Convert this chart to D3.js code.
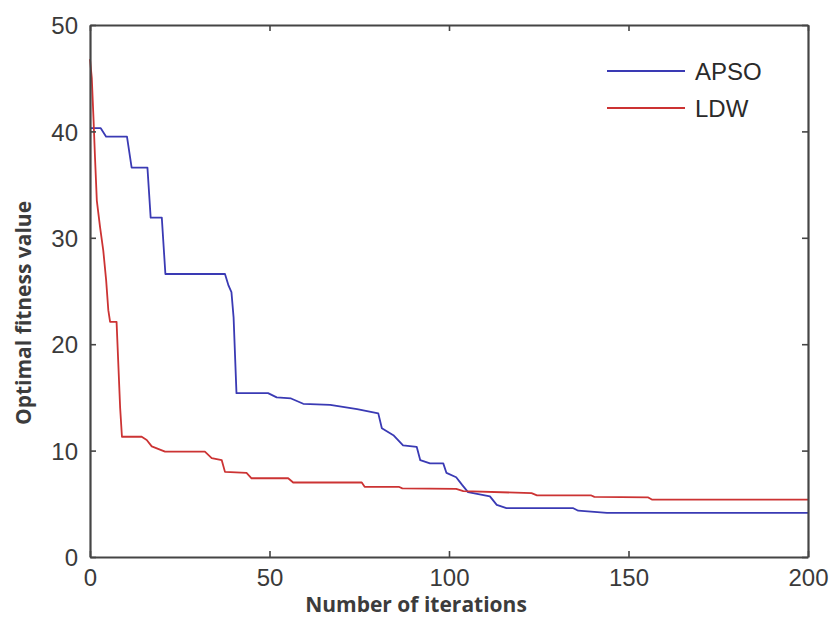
<!DOCTYPE html>
<html>
<head>
<meta charset="utf-8">
<script src="https://cdn.jsdelivr.net/npm/d3@7"></script>
<style>
  html, body { margin: 0; padding: 0; background: #fff; }
  svg { display: block; }
</style>
</head>
<body>
<svg id="chart" width="829" height="617"></svg>
<script>
// ---- data ----
const xTicks = [0, 50, 100, 150, 200];
const yTicks = [0, 10, 20, 30, 40, 50];
const seriesNames = ["APSO", "LDW"];
const apsoIter = [0, 3, 4.5, 10.3, 11.6, 16.0, 16.9, 20.0, 21.0, 37.6, 38.6, 39.4, 40.0, 40.8, 49.6, 52, 56, 59.4, 66.9, 74.4, 80.3, 81.3, 84.5, 87.2, 91, 92, 94.7, 98.4, 99.3, 102, 103.6, 105.3, 111.4, 113.3, 116, 134.5, 136, 144, 200];
const apsoValue = [40.3, 40.3, 39.5, 39.5, 36.6, 36.6, 31.9, 31.9, 26.6, 26.6, 25.5, 24.9, 22.5, 15.4, 15.4, 15.0, 14.9, 14.4, 14.3, 13.9, 13.5, 12.1, 11.45, 10.5, 10.36, 9.1, 8.8, 8.8, 7.9, 7.5, 6.8, 6.1, 5.7, 4.9, 4.6, 4.6, 4.35, 4.15, 4.15];
const ldwIter = [0, 0.5, 1.0, 1.4, 1.9, 2.8, 3.7, 4.5, 5.1, 5.6, 7.4, 8.4, 8.9, 14.4, 15.8, 17.2, 20.9, 32, 33.9, 36.7, 37.6, 43.6, 45, 55.2, 56.6, 75.7, 76.5, 86, 87, 102, 104, 123, 124.5, 139.5, 140.5, 155.5, 156.5, 200];
const ldwValue = [46.8, 45, 41, 37.5, 33.5, 31, 28.8, 26, 23.2, 22.1, 22.1, 14.0, 11.3, 11.3, 11.0, 10.4, 9.9, 9.9, 9.3, 9.1, 8.0, 7.9, 7.4, 7.4, 7.0, 7.0, 6.6, 6.6, 6.45, 6.4, 6.2, 6.0, 5.8, 5.8, 5.65, 5.6, 5.4, 5.4];
const seriesColors = ["#3a3ab4", "#cc3333"];

// ---- layout ----
const svg = d3.select("#chart");
const mLeft = 90, mRight = 808, mTop = 25, mBottom = 557;
const x = d3.scaleLinear().domain([0, 200]).range([mLeft, mRight]);
const y = d3.scaleLinear().domain([0, 50]).range([mBottom, mTop]);
const axisColor = "#454545";
const tickFont = "'Liberation Sans', Arial, sans-serif";

const series = [
  { name: seriesNames[0], pts: apsoIter.map((d, i) => [d, apsoValue[i]]), color: seriesColors[0] },
  { name: seriesNames[1], pts: ldwIter.map((d, i) => [d, ldwValue[i]]), color: seriesColors[1] }
];

const line = d3.line().x(d => x(d[0])).y(d => y(d[1]));

// lines
svg.append("g").selectAll("path").data(series).join("path")
  .attr("d", d => line(d.pts))
  .attr("fill", "none")
  .attr("stroke", d => d.color)
  .attr("stroke-width", 1.8)
  .attr("stroke-linejoin", "round");

// axes
const tl = 6;
const gx = svg.append("g").attr("transform", `translate(0,${mBottom})`)
  .call(d3.axisBottom(x).tickValues(xTicks).tickSizeInner(-tl).tickSizeOuter(0).tickPadding(12));
const gxTop = svg.append("g").attr("transform", `translate(0,${mTop})`)
  .call(d3.axisTop(x).tickValues(xTicks).tickSizeInner(-tl).tickSizeOuter(0).tickFormat(""));
const gy = svg.append("g").attr("transform", `translate(${mLeft},0)`)
  .call(d3.axisLeft(y).tickValues(yTicks).tickSizeInner(-tl).tickSizeOuter(0).tickPadding(12));
const gyR = svg.append("g").attr("transform", `translate(${mRight},0)`)
  .call(d3.axisRight(y).tickValues(yTicks).tickSizeInner(-tl).tickSizeOuter(0).tickFormat(""));

[gx, gxTop, gy, gyR].forEach(g => {
  g.select(".domain").attr("stroke", axisColor).attr("stroke-width", 2.2);
  g.selectAll(".tick line").attr("stroke", axisColor).attr("stroke-width", 1.6);
  g.selectAll(".tick text").attr("fill", "#3a3a3a")
    .style("font-family", tickFont).style("font-size", "24px");
});
gy.selectAll(".tick text").attr("dy", "0.36em");
gx.selectAll(".tick text").attr("dy", "0.72em");

// axis labels
svg.append("text")
  .attr("x", 416).attr("y", 612)
  .attr("text-anchor", "middle")
  .style("font-family", "'Open Sans', sans-serif")
  .style("font-weight", "bold").style("font-size", "21px")
  .attr("fill", "#3c3c3c")
  .text("Number of iterations");

svg.append("text")
  .attr("transform", "translate(31,313) rotate(-90)")
  .attr("text-anchor", "middle")
  .style("font-family", "'Open Sans', sans-serif")
  .style("font-weight", "bold").style("font-size", "21px")
  .attr("fill", "#3c3c3c")
  .text("Optimal fitness value");

// legend
const legend = svg.append("g");
const legY = [71, 108];
const legItems = legend.selectAll("g").data(series).join("g")
  .attr("transform", (d, i) => `translate(0,${legY[i]})`);
legItems.append("line")
  .attr("x1", 607).attr("x2", 685).attr("y1", 0).attr("y2", 0)
  .attr("stroke", d => d.color).attr("stroke-width", 1.8);
legItems.append("text")
  .attr("x", 695).attr("y", 0).attr("dy", "0.36em")
  .style("font-family", tickFont).style("font-size", "24px")
  .attr("fill", "#2a2a2a")
  .text(d => d.name);
</script>
</body>
</html>
